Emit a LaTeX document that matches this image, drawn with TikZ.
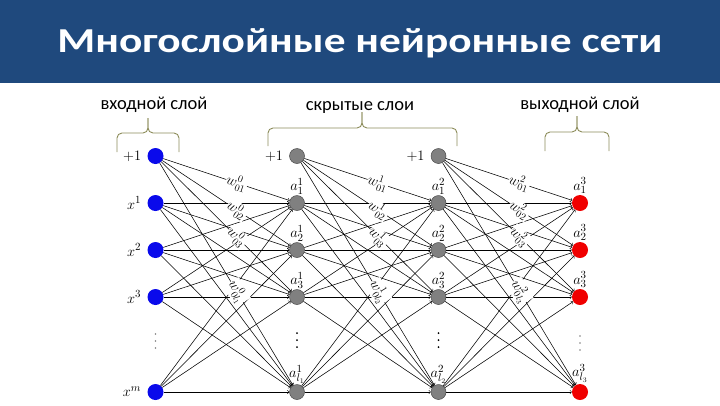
\documentclass[tikz,border=0pt]{standalone}
\usepackage{fontspec}
\setmainfont{Carlito}
\usetikzlibrary{positioning}

\definecolor{titleblue}{RGB}{31,73,125}
\definecolor{bracecol}{RGB}{140,140,90}
\definecolor{inblue}{RGB}{10,10,235}
\definecolor{hidgray}{RGB}{128,128,128}
\definecolor{outred}{RGB}{240,0,0}

\tikzset{
  neuron/.style={circle, minimum size=16pt, inner sep=0pt},
  innode/.style={neuron, fill=inblue},
  hidnode/.style={neuron, minimum size=15pt, fill=hidgray, draw=gray!60!black, line width=0.5pt},
  outnode/.style={neuron, fill=outred},
  edge/.style={->, line width=0.55pt},
  wlabel/.style={pos=0.58, sloped, fill=white, inner sep=0.5pt, font=\fontsize{14}{14}\selectfont},
  lbl/.style={inner sep=1pt, font=\fontsize{15}{15}\selectfont},
  brace/.style={draw=bracecol, line width=0.9pt, rounded corners=5pt},
  layername/.style={anchor=base, font=\fontsize{18.5}{19}\selectfont},
  titletext/.style={anchor=base, text=white, font=\fontsize{35}{35}\selectfont\bfseries}
}

\begin{document}
\begin{tikzpicture}[x=1pt,y=-1pt]
  \useasboundingbox (0,0) rectangle (720,405);
  % title
  \fill[titleblue] (0,0) rectangle (720,83);
  \node[titletext] (title) at (360,52.5) {\scalebox{1.24}[1]{Многослойные нейронные сети}};

  % layer names and braces
  \node[layername] (inname) at (154,109) {входной слой};
  \node[layername] (hidname) at (360,110) {скрытые слои};
  \node[layername] (outname) at (580,109) {выходной слой};
  \draw[brace] (117,152) |- (148,133) -- (148,118);
  \draw[brace] (179,152) |- (148,133) -- (148,118);
  \draw[brace] (268,146) |- (362,128) -- (362,112);
  \draw[brace] (457,146) |- (362,128) -- (362,112);
  \draw[brace] (545,151) |- (577,132) -- (577,116);
  \draw[brace] (609,151) |- (577,132) -- (577,116);

  % neurons
  \foreach \i/\y in {0/156,1/203,2/250,3/297,4/392} {
    \node[innode] (in\i) at (155.5,\y) {};
    \node[hidnode] (ha\i) at (297,\y) {};
    \node[hidnode] (hb\i) at (438.5,\y) {};
  }
  \foreach \i/\y in {1/203,2/250,3/297,4/392}
    \node[outnode] (out\i) at (580,\y) {};

  % dots
  \foreach \d in {-7,0,7} {
    \fill[gray] (155.5,341+\d) circle (0.8pt);
    \fill (297,340+\d) circle (1pt);
    \fill (438.5,340+\d) circle (1pt);
    \fill[gray] (580,343+\d) circle (0.8pt);
  }

  % labels
  \foreach \i/\t in {0/+1,1/x^1,2/x^2,3/x^3,4/x^m}
    \node[lbl, left=5pt of in\i] (inl\i) {$\t$};
  \node[lbl, left=5pt of ha0] (hal0) {$+1$};
  \node[lbl, left=5pt of hb0] (hbl0) {$+1$};
  \foreach \i/\t in {1/1,2/2,3/3,4/l_1}
    \node[lbl, above=0pt of ha\i] (hal\i) {$a^1_{\t}$};
  \foreach \i/\t in {1/1,2/2,3/3,4/l_2}
    \node[lbl, above=0pt of hb\i] (hbl\i) {$a^2_{\t}$};
  \foreach \i/\t in {1/1,2/2,3/3,4/l_3}
    \node[lbl, above=0pt of out\i] (outl\i) {$a^3_{\t}$};

  % connections
  \foreach \s in {1,...,4}
    \foreach \t in {1,...,4} {
      \draw[edge] (in\s) -- (ha\t);
      \draw[edge] (ha\s) -- (hb\t);
      \draw[edge] (hb\s) -- (out\t);
    }
  \foreach \t/\w in {1/1,2/2,3/3,4/l_1}
    \draw[edge] (in0) -- node[wlabel] (wa\t) {$w^0_{0\w}$} (ha\t);
  \foreach \t/\w in {1/1,2/2,3/3,4/l_2}
    \draw[edge] (ha0) -- node[wlabel] (wb\t) {$w^1_{0\w}$} (hb\t);
  \foreach \t/\w in {1/1,2/2,3/3,4/l_3}
    \draw[edge] (hb0) -- node[wlabel] (wc\t) {$w^2_{0\w}$} (out\t);
\end{tikzpicture}
\end{document}
